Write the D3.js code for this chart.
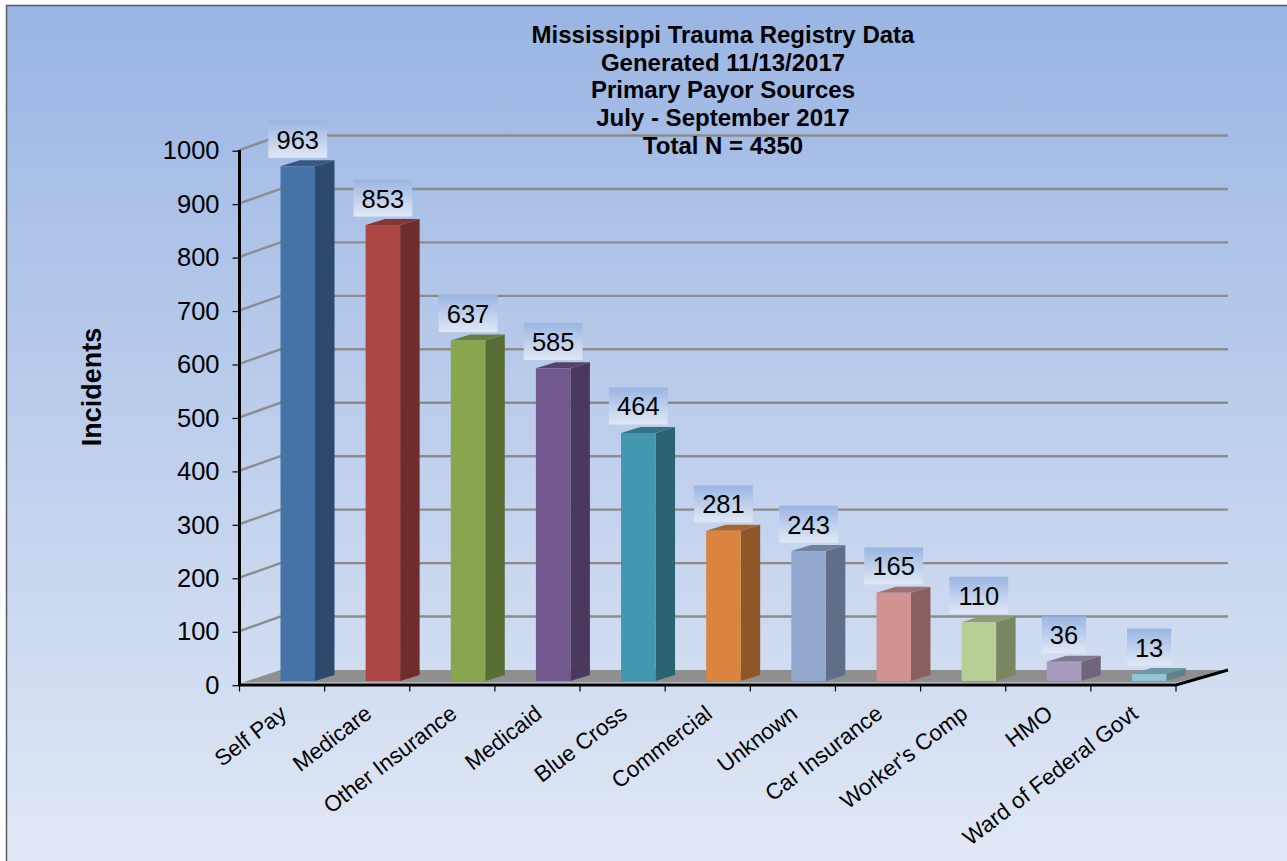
<!DOCTYPE html>
<html><head><meta charset="utf-8">
<script src="https://cdn.jsdelivr.net/npm/d3@7"></script>
<style>html,body{margin:0;padding:0;background:#fff}svg{display:block}text{font-family:"Liberation Sans",Arial,sans-serif}</style>
</head><body><div id="c"></div>
<script>
const categories=["Self Pay","Medicare","Other Insurance","Medicaid","Blue Cross","Commercial","Unknown","Car Insurance","Worker's Comp","HMO","Ward of Federal Govt"];
const values=[963,853,637,585,464,281,243,165,110,36,13];
const colors=["#4572a7","#aa4643","#89a54e","#71588f","#4198af","#db843d","#93a9cf","#d19392","#b9cd96","#a99bbd","#92c5d8"];
const yTicks=[0,100,200,300,400,500,600,700,800,900,1000];
const titleLines=["Mississippi Trauma Registry Data","Generated 11/13/2017","Primary Payor Sources","July - September 2017","Total N = 4350"];

const W=1287,H=861;
const svg=d3.select("#c").append("svg").attr("width",W).attr("height",H);
const defs=svg.append("defs");
const stops=(g)=>{g.append("stop").attr("offset","0").attr("stop-color","#9ab5e3");g.append("stop").attr("offset","1").attr("stop-color","#e1e8f5");};
stops(defs.append("linearGradient").attr("id","bg").attr("x1",0).attr("y1",0).attr("x2",0).attr("y2",1));
stops(defs.append("linearGradient").attr("id","lab").attr("x1",0).attr("y1",0).attr("x2",0).attr("y2",1));

const x=d3.scaleBand().domain(categories).range([239.5,1176]);
const y=d3.scaleLinear().domain([0,1000]).range([684.5,150]);
const depthX=41,depthY=14.5,endX=52;
const barW=34.5,barOff=41,bdx=19.5,bdy=6,lift=3.5;

svg.append("rect").attr("x",6.5).attr("y",5.5).attr("width",W).attr("height",H).attr("fill","url(#bg)").attr("stroke","#555c6a").attr("stroke-width",1.5);

// floor
const x0=239.5,x1=1176;
svg.append("polygon").attr("fill","#8f8f8f")
 .attr("points",[[x0+3,y(0)-2],[x0+depthX,y(0)-depthY],[x1+endX,y(0)-depthY],[x1,y(0)-2]].join(" "));

// gridlines
const grid=svg.append("g").attr("fill","none").attr("stroke","#8c8c8c").attr("stroke-width",2.4);
yTicks.filter(d=>d>0).forEach(d=>{
  grid.append("path").attr("d",d3.line()([[x0,y(d)],[x0+depthX,y(d)-depthY],[x1+endX,y(d)-depthY]]));
});

// bars
const bars=svg.append("g").selectAll("g").data(values).join("g");
const bl=(d,i)=>x(categories[i])+barOff;
const bb=y(0)-lift;
const bt=d=>y(d)-lift;
bars.append("polygon").attr("fill",(d,i)=>d3.color(colors[i]).darker(1.2))
 .attr("points",(d,i)=>{const l=bl(d,i)+barW;return [[l,bb],[l+bdx,bb-bdy],[l+bdx,bt(d)-bdy],[l,bt(d)]].join(" ")});
bars.append("polygon").attr("fill",(d,i)=>d3.color(colors[i]).darker(0.75))
 .attr("points",(d,i)=>{const l=bl(d,i);return [[l,bt(d)],[l+bdx,bt(d)-bdy],[l+barW+bdx,bt(d)-bdy],[l+barW,bt(d)]].join(" ")});
bars.append("rect").attr("fill",(d,i)=>colors[i])
 .attr("x",(d,i)=>bl(d,i)).attr("y",d=>bt(d)).attr("width",barW).attr("height",d=>bb-bt(d));

// axes
const axY=svg.append("g").attr("transform",`translate(${x0},0.7)`).call(d3.axisLeft(y).tickValues(yTicks).tickSize(7).tickPadding(13).tickFormat(d3.format("d")));
axY.select(".domain").remove();
axY.selectAll("line").attr("stroke","#000").attr("stroke-width",1.2);
axY.selectAll("text").attr("font-size",25.5).attr("fill","#000").style("font-family",'"Liberation Sans",Arial,sans-serif');
svg.append("line").attr("x1",x0).attr("x2",x0).attr("y1",y(1000)).attr("y2",y(0)+1.5).attr("stroke","#000").attr("stroke-width",3);

const tickXs=categories.map(c=>x(c)).concat([x1]);
svg.append("g").selectAll("line").data(tickXs).join("line")
 .attr("x1",d=>d).attr("x2",d=>d).attr("y1",y(0)).attr("y2",y(0)+7).attr("stroke","#000").attr("stroke-width",1.2);
svg.append("path").attr("fill","none").attr("stroke","#000").attr("stroke-width",3)
 .attr("d",d3.line()([[x0,y(0)+0.5],[x1,y(0)+0.5],[x1+endX,y(0)-depthY]]));

// category labels
svg.append("g").selectAll("text").data(categories).join("text")
 .attr("text-anchor","end").attr("font-size",22.4).attr("fill","#000")
 .attr("transform",c=>`translate(${x(c)+x.bandwidth()/2+6},${y(0)+32}) rotate(-37.5)`)
 .text(c=>c);

// data labels
const lg=svg.append("g").selectAll("g").data(values).join("g");
lg.append("rect").attr("fill","url(#lab)")
 .attr("x",(d,i)=>bl(d,i)+barW/2-(String(d).length*14.6+15)/2)
 .attr("y",d=>bt(d)-45.5).attr("width",d=>String(d).length*14.6+15).attr("height",37);
lg.append("text").attr("text-anchor","middle").attr("font-size",25.5).attr("fill","#000")
 .attr("x",(d,i)=>bl(d,i)+barW/2).attr("y",d=>bt(d)-17.5).text(d=>d);

// title
svg.append("g").selectAll("text").data(titleLines).join("text")
 .attr("x",723).attr("y",(d,i)=>43+i*27.7).attr("text-anchor","middle")
 .attr("font-size",24).attr("font-weight","bold").attr("fill","#000").text(d=>d);

svg.append("text").attr("transform","translate(101,387) rotate(-90)").attr("text-anchor","middle")
 .attr("font-size",27).attr("font-weight","bold").attr("fill","#000").text("Incidents");
</script></body></html>
